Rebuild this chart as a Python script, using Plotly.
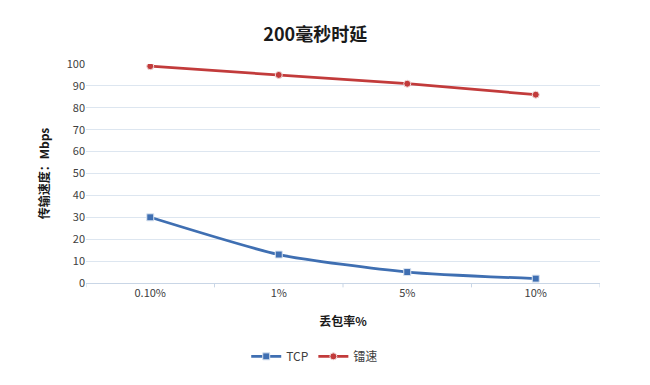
import plotly.graph_objects as go

categories = ["0.10%", "1%", "5%", "10%"]
tcp = [30, 13, 5, 2]
leisu = [99, 95, 91, 86]
yticks = list(range(0, 101, 10))

FONT = "Noto Sans CJK SC, Open Sans, sans-serif"

fig = go.Figure()
fig.add_trace(go.Scatter(
    x=categories, y=tcp, name="TCP", mode="lines+markers",
    line=dict(color="#3F6FB2", width=2.75, shape="spline", smoothing=0.6),
    marker=dict(symbol="square", size=7, color="#3F6FB2", line=dict(color="#dbe4f0", width=1)),
))
fig.add_trace(go.Scatter(
    x=categories, y=leisu, name="镭速", mode="lines+markers",
    line=dict(color="#C23B3B", width=2.75),
    marker=dict(symbol="circle", size=7, color="#C23B3B", line=dict(color="#f0dcdc", width=1)),
))

fig.update_layout(
    width=650, height=385,
    margin=dict(l=86, r=50, t=64, b=102),
    paper_bgcolor="white", plot_bgcolor="white",
    font=dict(family=FONT, size=11, color="#404040"),
    title=dict(text="<b>200毫秒时延</b>", x=0.485, xanchor="center", y=0.91, yanchor="middle",
               font=dict(size=18, color="#1a1a1a", family=FONT)),
    showlegend=True,
    legend=dict(orientation="h", x=0.445, xanchor="center", y=-0.335, yanchor="middle",
                font=dict(size=12, color="#404040"), itemwidth=30),
)
fig.update_xaxes(
    type="category", range=[-0.5, 3.5],
    showgrid=False, showline=True, linecolor="#c9d6e6", linewidth=1,
    ticks="", tickfont=dict(size=11, color="#404040"),
    title=dict(text="<b>丢包率%</b>", font=dict(size=12, color="#1a1a1a"), standoff=18),
)
fig.update_yaxes(
    range=[0, 100], tickvals=yticks, showgrid=True, gridcolor="#dde6f0", gridwidth=1,
    zeroline=False, showline=False, ticks="", tickfont=dict(size=11, color="#404040"),
    title=dict(text="<b>传输速度：Mbps</b>", font=dict(size=12, color="#1a1a1a"), standoff=14),
)
# category boundary tick marks
for i in range(5):
    fig.add_shape(type="line", xref="x", yref="paper", x0=i - 0.5, x1=i - 0.5, y0=0, y1=-0.02,
                  line=dict(color="#c9d6e6", width=1))

fig.write_html("out.html")
